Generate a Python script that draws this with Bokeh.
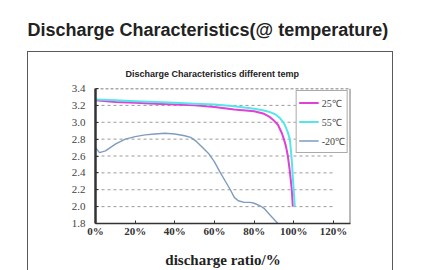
from bokeh.plotting import figure
from bokeh.models import (Range1d, FixedTicker, PrintfTickFormatter, Title,
                          Legend, LegendItem, InlineStyleSheet, LinearAxis)
from bokeh.embed import file_html
from bokeh.resources import INLINE

# ---- data ----
x_ticks = [0, 20, 40, 60, 80, 100, 120]
y_ticks = [1.8, 2.0, 2.2, 2.4, 2.6, 2.8, 3.0, 3.2, 3.4]

pct_25 = [0, 10, 20, 30, 40, 50, 60, 70, 80, 85, 88, 90, 92, 94, 95, 96, 97, 98, 99, 99.5]
volt_25 = [3.26, 3.24, 3.23, 3.22, 3.21, 3.20, 3.18, 3.15, 3.13, 3.10, 3.06, 3.02, 2.97,
           2.87, 2.80, 2.72, 2.60, 2.42, 2.20, 2.00]

pct_55 = [0, 10, 20, 30, 40, 50, 60, 70, 80, 85, 88, 91, 93, 95, 96, 97, 98, 99, 99.5, 100, 100.5]
volt_55 = [3.27, 3.26, 3.25, 3.24, 3.23, 3.22, 3.21, 3.19, 3.16, 3.14, 3.12, 3.09, 3.05,
           2.99, 2.94, 2.88, 2.80, 2.55, 2.35, 2.18, 2.00]

pct_m20 = [0, 2, 5, 10, 15, 20, 25, 30, 35, 40, 45, 48, 51, 54, 57, 60, 63, 66, 68, 70,
           72, 75, 78, 80, 83, 85, 88, 90, 92]
volt_m20 = [2.70, 2.64, 2.66, 2.74, 2.80, 2.83, 2.85, 2.86, 2.87, 2.86, 2.84, 2.82, 2.77,
            2.70, 2.63, 2.53, 2.40, 2.28, 2.20, 2.11, 2.07, 2.05, 2.05, 2.04, 2.01, 1.98,
            1.90, 1.85, 1.80]

series_names = ["25\u2103", "55\u2103", "-20\u2103"]
series_colors = ["#e23fd6", "#55e6ea", "#7f9cbf"]

outer_title = "Discharge Characteristics(@ temperature)"
inner_title = "Discharge Characteristics different temp"
x_title = "discharge ratio/%"

W, H = 428, 270
p = figure(width=W, height=H, output_backend="svg", toolbar_location=None,
           x_range=Range1d(0, 128.6), y_range=Range1d(1.8, 3.4),
           min_border_left=95, min_border_right=78, min_border_top=88,
           min_border_bottom=47, background_fill_color="white",
           border_fill_color="white")
p.outline_line_color = None
p.grid.visible = False

# outer frame box drawn with CSS around the chart area
p.stylesheets = [InlineStyleSheet(css="""
:host::after { content: ''; position: absolute; left: 27px; top: 51px;
  width: 366px; height: 240px; border: 1.5px solid #5a5a5a; border-bottom: none;
  box-sizing: border-box; pointer-events: none; }
""")]

# dashed grid lines only across 0..120 %
grid_vals = y_ticks[1:-1]
p.segment(x0=[x_ticks[0]] * len(grid_vals), x1=[x_ticks[-1]] * len(grid_vals),
          y0=grid_vals, y1=grid_vals, line_color="#9a9a9a", line_width=1,
          line_dash="3 3")
# frame top (dashed) and right (solid)
p.segment(x0=[0], x1=[128.6], y0=[3.4], y1=[3.4], line_color="#555555",
          line_width=1.5, line_dash="3 2")
p.segment(x0=[128.6], x1=[128.6], y0=[1.8], y1=[3.4], line_color="#777777",
          line_width=2)

r1 = p.line(pct_25, volt_25, line_color=series_colors[0], line_width=2)
r2 = p.line(pct_55, volt_55, line_color=series_colors[1], line_width=2)
r3 = p.line(pct_m20, volt_m20, line_color=series_colors[2], line_width=1.4)

legend = Legend(items=[LegendItem(label=series_names[0], renderers=[r1]),
                       LegendItem(label=series_names[1], renderers=[r2]),
                       LegendItem(label=series_names[2], renderers=[r3])],
                location="top_right", margin=2, padding=2, spacing=0,
                glyph_width=20, glyph_height=19, label_height=19,
                label_standoff=3, label_text_font="Liberation Serif",
                label_text_font_size="10px", label_text_color="#444444",
                border_line_color="#555555", border_line_width=1.5,
                background_fill_alpha=1)
p.add_layout(legend)

# axes
p.xaxis.ticker = FixedTicker(ticks=x_ticks)
p.xaxis.formatter = PrintfTickFormatter(format="%d%%")
p.xaxis.major_label_text_font = "Liberation Serif"
p.xaxis.major_label_text_font_style = "bold"
p.xaxis.major_label_text_font_size = "11px"
p.xaxis.major_label_text_color = "#333333"
p.xaxis.major_label_standoff = 1
p.xaxis.axis_line_color = "#333333"
p.xaxis.axis_line_width = 1.5
p.xaxis.major_tick_in = 3
p.xaxis.major_tick_out = 0
p.xaxis.major_tick_line_color = "#333333"
p.xaxis.minor_tick_line_color = None

# second (label-only) axis below carrying the x title
label_axis = LinearAxis(ticker=FixedTicker(ticks=[]), bounds=(0, 116.5),
                        axis_line_color=None, major_tick_line_color=None,
                        minor_tick_line_color=None, major_tick_in=0,
                        major_tick_out=0, major_label_standoff=0,
                        axis_label=x_title, axis_label_standoff=12,
                        axis_label_text_font="Liberation Serif",
                        axis_label_text_font_style="bold",
                        axis_label_text_font_size="15px",
                        axis_label_text_color="#222222")
p.add_layout(label_axis, "below")

p.yaxis.ticker = FixedTicker(ticks=y_ticks)
p.yaxis.formatter = PrintfTickFormatter(format="%.1f")
p.yaxis.major_label_text_font = "Liberation Serif"
p.yaxis.major_label_text_font_size = "11px"
p.yaxis.major_label_text_color = "#444444"
p.yaxis.major_label_standoff = 10
p.yaxis.axis_line_color = "#333333"
p.yaxis.axis_line_width = 2.5
p.yaxis.major_tick_in = 3
p.yaxis.major_tick_out = 0
p.yaxis.major_tick_line_color = "#333333"
p.yaxis.minor_tick_line_color = None

# titles
p.add_layout(Title(text=inner_title, align="left", offset=30, standoff=19,
                   text_font="Liberation Sans", text_font_style="bold",
                   text_font_size="9px", text_color="#222222"), "above")
p.add_layout(Title(text=outer_title, align="left", offset=-68, standoff=35,
                   text_font="Liberation Sans", text_font_style="bold",
                   text_font_size="18px", text_color="#222222"), "above")

open("out.html", "w").write(file_html(p, INLINE))
